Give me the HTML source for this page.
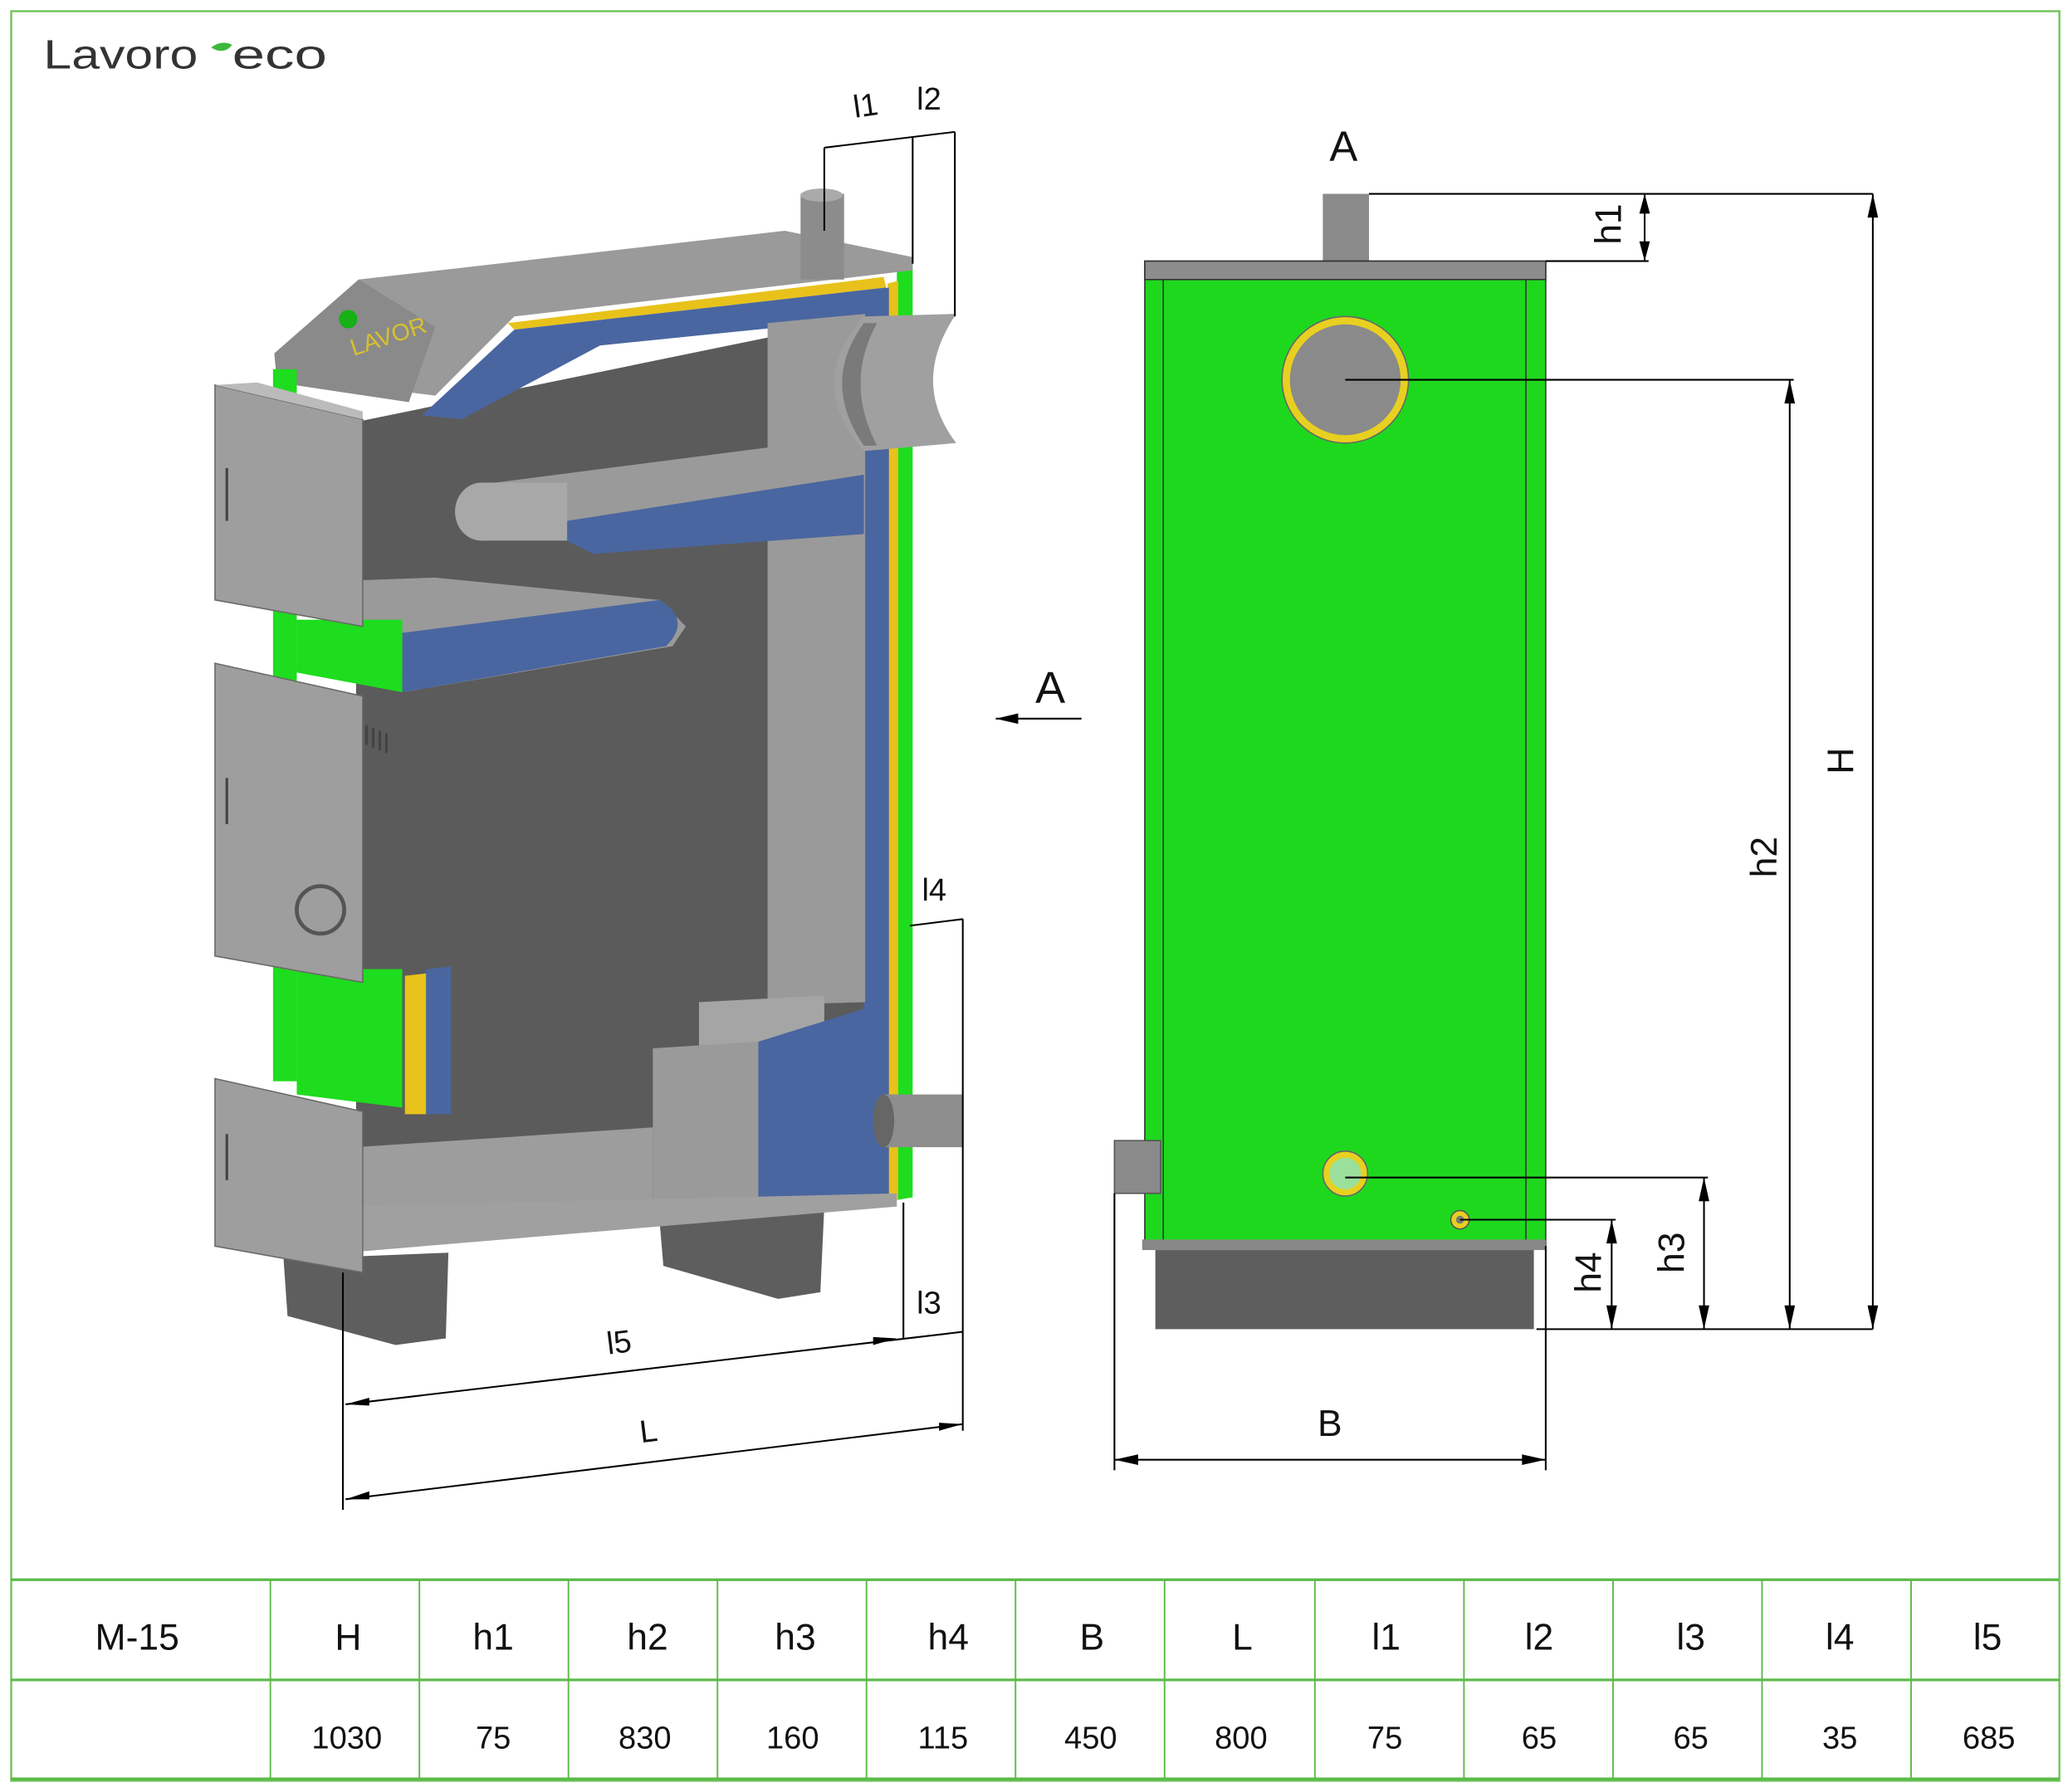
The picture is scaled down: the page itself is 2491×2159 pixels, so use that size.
<!DOCTYPE html>
<html><head><meta charset="utf-8"><style>
html,body{margin:0;padding:0;background:#fff;}
svg{display:block;}
text{font-family:"Liberation Sans",sans-serif;}
</style></head><body>
<svg width="2491" height="2159" viewBox="0 0 1568 1359" preserveAspectRatio="none" xmlns="http://www.w3.org/2000/svg">
<rect x="0" y="0" width="1568" height="1359" fill="#fff"/>
<rect x="8.5" y="8.5" width="1553" height="1342" fill="none" stroke="#6fc35a" stroke-width="1.5"/>
<!-- logo -->
<text x="33" y="52" font-size="31" fill="#333" textLength="117" lengthAdjust="spacingAndGlyphs">Lavoro</text>
<path d="M160 36 q8 -6 16 -2 q-6 8 -16 2z" fill="#3cb83c"/>
<text x="176" y="52" font-size="31" fill="#333" textLength="72" lengthAdjust="spacingAndGlyphs">eco</text>

<!-- LEFT 3D VIEW -->
<polygon points="215,955 340,950 338,1015 300,1020 218,998" fill="#5e5e5e"/>
<polygon points="500,925 625,915 622,980 590,985 503,960" fill="#5e5e5e"/>
<polygon points="270,320 660,240 660,912 270,948" fill="#5b5b5b"/>
<polygon points="680,200 692,198 692,908 680,910" fill="#1edc1e"/>
<polygon points="673,215 681,213 681,910 673,910" fill="#e8c21a"/>
<polygon points="655,222 674,218 674,912 655,915" fill="#4a66a0"/>
<polygon points="272,212 595,175 692,195 692,205 390,240 330,300 210,285 208,268" fill="#9a9a9a"/>
<polygon points="208,268 272,212 330,248 310,305 210,290" fill="#8a8a8a"/>
<circle cx="264" cy="242" r="7" fill="#17b017"/>
<text x="268" y="270" font-size="18" fill="#d8c030" transform="rotate(-18 268 270)">LAVOR</text>
<polygon points="385,245 670,210 672,218 390,250" fill="#e8c21a"/>
<polygon points="320,315 390,250 672,218 672,240 455,262 350,318" fill="#4a66a0"/>
<polygon points="582,245 656,238 656,760 582,762" fill="#9a9a9a"/>
<polygon points="360,368 655,330 655,375 440,415 420,395" fill="#9a9a9a"/>
<polygon points="430,395 655,360 655,405 450,420 425,408" fill="#4a66a0"/>
<ellipse cx="365" cy="388" rx="20" ry="22" fill="#a8a8a8"/>
<rect x="365" y="366" width="65" height="44" fill="#a8a8a8"/>
<polygon points="275,440 330,438 500,455 520,475 510,490 305,525 275,470" fill="#9a9a9a"/>
<path d="M305,480 L500,455 Q525,470 505,490 L305,525Z" fill="#4a66a0"/>
<polygon points="530,760 625,755 625,800 530,808" fill="#a5a5a5"/>
<polygon points="495,795 575,790 575,910 495,915" fill="#9a9a9a"/>
<polygon points="575,790 655,765 655,910 575,915" fill="#4a66a0"/>
<polygon points="270,870 495,855 495,910 320,918 270,915" fill="#9d9d9d"/>
<polygon points="262,915 680,905 680,915 262,950" fill="#a0a0a0"/>
<polygon points="307,740 325,738 325,845 307,845" fill="#e8c21a"/>
<polygon points="323,735 342,733 342,845 323,845" fill="#4a66a0"/>
<rect x="207" y="280" width="18" height="540" fill="#1edc1e"/>
<polygon points="225,470 305,470 305,525 225,510" fill="#1edc1e"/>
<polygon points="225,735 305,735 305,840 225,830" fill="#1edc1e"/>
<polygon points="163,292 275,318 275,475 163,455" fill="#9e9e9e" stroke="#6a6a6a"/>
<polygon points="163,292 195,290 275,312 275,318" fill="#bbb"/>
<polygon points="163,503 275,528 275,745 163,725" fill="#9e9e9e" stroke="#6a6a6a"/>
<polygon points="163,818 275,843 275,965 163,945" fill="#9e9e9e" stroke="#6a6a6a"/>
<line x1="172" y1="355" x2="172" y2="395" stroke="#444" stroke-width="2"/>
<line x1="172" y1="590" x2="172" y2="625" stroke="#444" stroke-width="2"/>
<line x1="172" y1="860" x2="172" y2="895" stroke="#444" stroke-width="2"/>
<circle cx="243" cy="690" r="18" fill="none" stroke="#555" stroke-width="3"/>
<path d="M278 550 v15 M283 552 v15 M288 554 v15 M293 556 v15" stroke="#444" stroke-width="2"/>
<rect x="607" y="147" width="33" height="65" fill="#8c8c8c"/>
<ellipse cx="623" cy="148" rx="16" ry="5" fill="#aaa"/>
<path d="M655,240 L725,238 Q690,290 725,336 L655,342 Q610,290 655,240Z" fill="#a0a0a0"/>
<path d="M655,245 Q622,290 655,338 L665,338 Q640,290 665,245Z" fill="#7a7a7a"/>
<rect x="670" y="830" width="60" height="40" fill="#8e8e8e"/>
<ellipse cx="670" cy="850" rx="8" ry="20" fill="#666"/>

<g stroke="#000" stroke-width="1.3" fill="none">
<line x1="625" y1="112" x2="625" y2="175"/>
<line x1="692" y1="104" x2="692" y2="200"/>
<line x1="724" y1="100" x2="724" y2="240"/>
<line x1="625" y1="112" x2="724" y2="100"/>
<line x1="730" y1="697" x2="730" y2="1085"/>
<line x1="690" y1="702" x2="730" y2="697"/>
<line x1="685" y1="912" x2="685" y2="1015"/>
<line x1="262" y1="1065" x2="730" y2="1010"/>
<line x1="262" y1="1137" x2="730" y2="1080"/>
<line x1="260" y1="965" x2="260" y2="1145"/>
<line x1="755" y1="545" x2="820" y2="545"/>
</g>
<g fill="#000">
<polygon points="755,545 772,541 772,549"/>
<polygon points="262,1065 280,1060 280,1066"/><polygon points="680,1015 662,1014 662,1020"/>
<polygon points="262,1137 280,1131 280,1137"/><polygon points="730,1080 712,1079 712,1085"/>
</g>
<g font-size="24" fill="#111">
<text x="647" y="88" transform="rotate(-8 657 80)">l1</text>
<text x="695" y="83">l2</text>
<text x="699" y="683">l4</text>
<text x="695" y="996">l3</text>
<text x="460" y="1026" transform="rotate(-7 470 1018)">l5</text>
<text x="485" y="1093" transform="rotate(-7 495 1085)">L</text>
<text x="785" y="533" font-size="34">A</text>
</g>

<!-- RIGHT VIEW -->
<rect x="1003" y="147" width="35" height="52" fill="#8a8a8a"/>
<rect x="868" y="198" width="304" height="747" fill="#1ed81e" stroke="#333" stroke-width="1"/>
<rect x="868" y="198" width="304" height="14" fill="#8c8c8c" stroke="#333" stroke-width="1"/>
<line x1="882" y1="212" x2="882" y2="945" stroke="#333"/>
<line x1="1157" y1="212" x2="1157" y2="945" stroke="#333"/>
<rect x="866" y="940" width="306" height="8" fill="#888"/>
<rect x="876" y="948" width="287" height="60" fill="#5e5e5e"/>
<rect x="845" y="865" width="35" height="40" fill="#8a8a8a" stroke="#555"/>
<circle cx="1020" cy="288" r="48" fill="#e8d020" stroke="#666"/>
<circle cx="1020" cy="288" r="42" fill="#8a8a8a"/>
<circle cx="1020" cy="890" r="17" fill="#e8d020" stroke="#666"/>
<circle cx="1020" cy="890" r="12" fill="#9adf9a"/>
<circle cx="1107" cy="925" r="7" fill="#e8d020" stroke="#555"/>
<circle cx="1107" cy="925" r="3" fill="#777"/>
<g stroke="#000" stroke-width="1.3" fill="none">
<line x1="1038" y1="147" x2="1420" y2="147"/>
<line x1="1172" y1="198" x2="1250" y2="198"/>
<line x1="1247" y1="147" x2="1247" y2="198"/>
<line x1="1020" y1="288" x2="1360" y2="288"/>
<line x1="1357" y1="288" x2="1357" y2="1008"/>
<line x1="1420" y1="147" x2="1420" y2="1008"/>
<line x1="1020" y1="893" x2="1295" y2="893"/>
<line x1="1292" y1="893" x2="1292" y2="1008"/>
<line x1="1107" y1="925" x2="1225" y2="925"/>
<line x1="1222" y1="925" x2="1222" y2="1008"/>
<line x1="1165" y1="1008" x2="1420" y2="1008"/>
<line x1="845" y1="905" x2="845" y2="1115"/>
<line x1="1172" y1="945" x2="1172" y2="1115"/>
<line x1="845" y1="1107" x2="1172" y2="1107"/>
</g>
<g fill="#000">
<polygon points="1420,147 1416,165 1424,165"/><polygon points="1420,1008 1416,990 1424,990"/>
<polygon points="1357,288 1353,306 1361,306"/><polygon points="1357,1008 1353,990 1361,990"/>
<polygon points="1292,893 1288,911 1296,911"/><polygon points="1292,1008 1288,990 1296,990"/>
<polygon points="1222,925 1218,943 1226,943"/><polygon points="1222,1008 1218,990 1226,990"/>
<polygon points="1247,147 1243,162 1251,162"/><polygon points="1247,198 1243,183 1251,183"/>
<polygon points="845,1107 863,1103 863,1111"/><polygon points="1172,1107 1154,1103 1154,1111"/>
</g>
<g font-size="28" fill="#111">
<text x="1008" y="122" font-size="32">A</text>
<text x="999" y="1089">B</text>
<text transform="translate(1229,170) rotate(-90)" text-anchor="middle">h1</text>
<text transform="translate(1405,577) rotate(-90)" text-anchor="middle">H</text>
<text transform="translate(1347,650) rotate(-90)" text-anchor="middle">h2</text>
<text transform="translate(1277,950) rotate(-90)" text-anchor="middle">h3</text>
<text transform="translate(1214,965) rotate(-90)" text-anchor="middle">h4</text>
</g>

<!-- TABLE -->
<g stroke="#5cba48" stroke-width="1.2">
<line x1="8" y1="1198" x2="1561" y2="1198" stroke-width="2"/>
<line x1="8" y1="1274" x2="1561" y2="1274" stroke-width="2"/>
<line x1="8" y1="1349" x2="1561" y2="1349" stroke-width="2"/>
<line x1="205" y1="1198" x2="205" y2="1349"/><line x1="318" y1="1198" x2="318" y2="1349"/>
<line x1="431" y1="1198" x2="431" y2="1349"/><line x1="544" y1="1198" x2="544" y2="1349"/>
<line x1="657" y1="1198" x2="657" y2="1349"/><line x1="770" y1="1198" x2="770" y2="1349"/>
<line x1="883" y1="1198" x2="883" y2="1349"/><line x1="997" y1="1198" x2="997" y2="1349"/>
<line x1="1110" y1="1198" x2="1110" y2="1349"/><line x1="1223" y1="1198" x2="1223" y2="1349"/>
<line x1="1336" y1="1198" x2="1336" y2="1349"/><line x1="1449" y1="1198" x2="1449" y2="1349"/>
</g>
<g font-size="28" fill="#111" text-anchor="middle">
<text x="104" y="1251">M-15</text><text x="264" y="1251">H</text><text x="374" y="1251">h1</text>
<text x="491" y="1251">h2</text><text x="603" y="1251">h3</text><text x="719" y="1251">h4</text>
<text x="828" y="1251">B</text><text x="942" y="1251">L</text><text x="1051" y="1251">l1</text>
<text x="1167" y="1251">l2</text><text x="1282" y="1251">l3</text><text x="1395" y="1251">l4</text>
<text x="1507" y="1251">l5</text>
</g>
<g font-size="24" fill="#111" text-anchor="middle">
<text x="263" y="1326">1030</text><text x="374" y="1326">75</text><text x="489" y="1326">830</text>
<text x="601" y="1326">160</text><text x="715" y="1326">115</text><text x="827" y="1326">450</text>
<text x="941" y="1326">800</text><text x="1050" y="1326">75</text><text x="1167" y="1326">65</text>
<text x="1282" y="1326">65</text><text x="1395" y="1326">35</text><text x="1508" y="1326">685</text>
</g>
</svg>
</body></html>
